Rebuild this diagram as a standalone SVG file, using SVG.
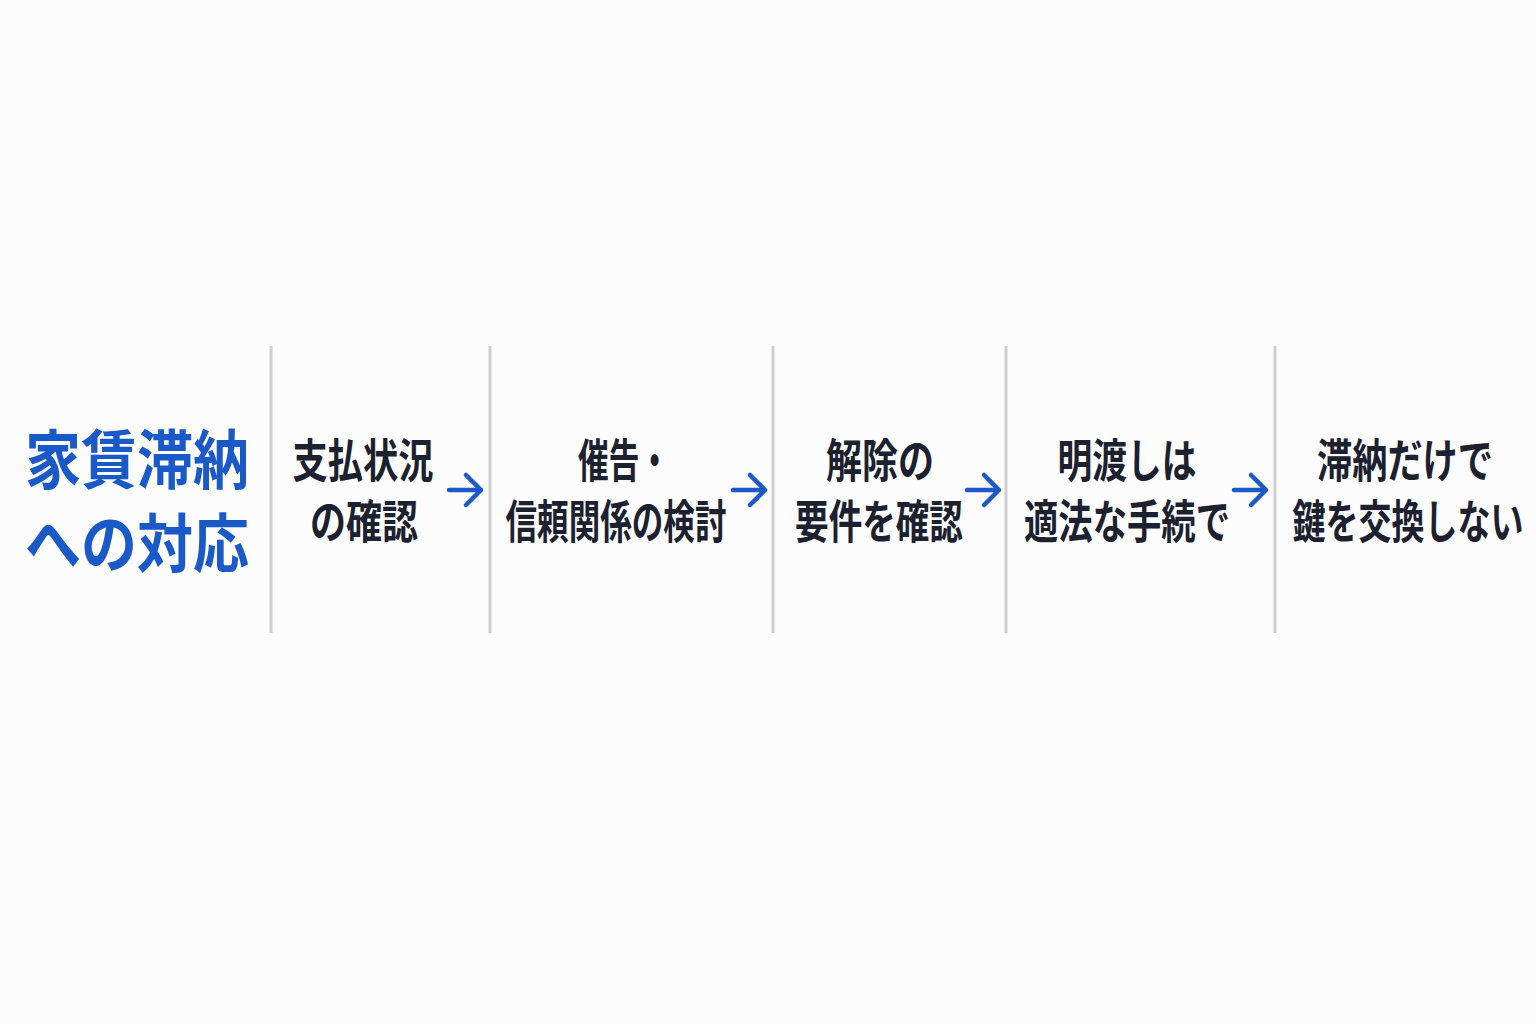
<svg xmlns="http://www.w3.org/2000/svg" width="1536" height="1024" viewBox="0 0 1536 1024">
<style>
.bg{fill:#fcfcfd}
.div{stroke:#cfcfcf;stroke-width:3}
.title{font-family:"Noto Sans CJK JP","Noto Sans CJK SC",sans-serif;font-weight:700;font-size:64px;fill:#1a5ac8;text-anchor:middle}
.step{font-family:"Noto Sans CJK JP","Noto Sans CJK SC",sans-serif;font-weight:700;font-size:46px;fill:#1c2130;text-anchor:middle}
.arr{fill:none;stroke:#1a5ac8;stroke-width:4.5;stroke-linecap:round;stroke-linejoin:round}
</style>
<defs>
<g id="arrow"><path class="arr" d="M-16 0 H16 M1 -15 L16 0 L1 15"/></g>
</defs>
<rect class="bg" x="0" y="0" width="1536" height="1024"/>
<g id="dividers">
<line class="div" x1="271" y1="346" x2="271" y2="633"/>
<line class="div" x1="490" y1="346" x2="490" y2="633"/>
<line class="div" x1="773" y1="346" x2="773" y2="633"/>
<line class="div" x1="1006" y1="346" x2="1006" y2="633"/>
<line class="div" x1="1275" y1="346" x2="1275" y2="633"/>
</g>
<g id="title">
<text class="title" transform="translate(137,483) scale(0.875,1)">家賃滞納</text>
<text class="title" transform="translate(137,567) scale(0.875,1)">への対応</text>
</g>
<g id="step1">
<text class="step" transform="translate(363,477) scale(0.766,1)">支払状況</text>
<text class="step" transform="translate(364,538) scale(0.783,1)">の確認</text>
</g>
<g id="step2">
<text class="step" transform="translate(624,477) scale(0.667,1)">催告・</text>
<text class="step" transform="translate(616,538) scale(0.686,1)">信頼関係の検討</text>
</g>
<g id="step3">
<text class="step" transform="translate(880,477) scale(0.783,1)">解除の</text>
<text class="step" transform="translate(879,538) scale(0.730,1)">要件を確認</text>
</g>
<g id="step4">
<text class="step" transform="translate(1127,477) scale(0.755,1)">明渡しは</text>
<text class="step" transform="translate(1127,538) scale(0.746,1)">適法な手続で</text>
</g>
<g id="step5">
<text class="step" transform="translate(1405,477) scale(0.765,1)">滞納だけで</text>
<text class="step" transform="translate(1408,538) scale(0.717,1)">鍵を交換しない</text>
</g>
<g id="connectors">
<use href="#arrow" x="465" y="490"/>
<use href="#arrow" x="749" y="490"/>
<use href="#arrow" x="983" y="490"/>
<use href="#arrow" x="1250" y="490"/>
</g>
</svg>
